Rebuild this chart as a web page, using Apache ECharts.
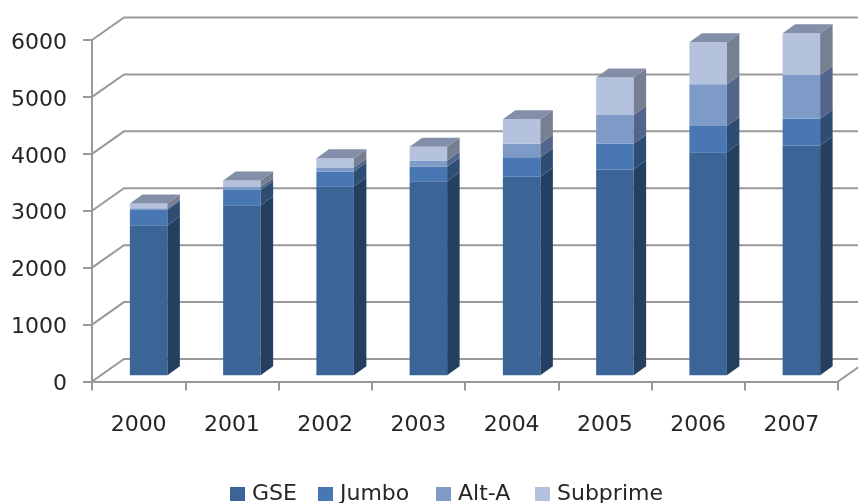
<!DOCTYPE html>
<html><head><meta charset="utf-8">
<style>html,body{margin:0;padding:0;background:#fff}#c{width:858px;height:503px}</style>
<script src="https://cdn.jsdelivr.net/npm/echarts@6/dist/echarts.min.js"></script>
</head><body><div id="c"></div>
<script>
var categories = ['2000','2001','2002','2003','2004','2005','2006','2007'];
var yTicks = [0,1000,2000,3000,4000,5000,6000];
var gse      = [2634,2986,3320,3408,3486,3614,3919,4037];
var jumbo    = [ 270, 270, 259, 254, 345, 453, 458, 470];
var altA     = [  30,  50,  71, 111, 236, 503, 733, 769];
var subprime = [  82, 114, 163, 241, 428, 659, 740, 733];

var seriesDefs = [
  {name:'GSE', values:gse, front:'#3b6497', side:'#243f5f', legendLeft:225},
  {name:'Jumbo', values:jumbo, front:'#4877b3', side:'#2d4d74', legendLeft:313},
  {name:'Alt-A', values:altA, front:'#7e9bc8', side:'#53658a', legendLeft:431},
  {name:'Subprime', values:subprime, front:'#b4c2de', side:'#777f92', legendLeft:530}
];
var topColor = '#838fa8', gridColor = '#999999', textColor = '#262626';
var font = '"DejaVu Sans"', fontSize = 22;
var wallDx = 32, wallDy = -22.5;
var depthDx = 12.5, depthDy = -9;
var frontDx = 10, frontDy = -6.3, barW = 37.5;

var series = [];
series.push({
  type:'custom', name:'_grid', coordinateSystem:'cartesian2d', silent:true, clip:false, z:1,
  data: yTicks.map(function(t){return [0,t];}),
  encode:{x:0,y:1},
  renderItem:function(params,api){
    var y = api.coord([0,api.value(1)])[1];
    var x0 = params.coordSys.x;
    return {type:'polyline', shape:{points:[[x0,y],[x0+wallDx,y+wallDy],[900,y+wallDy]]},
      style:{stroke:gridColor,lineWidth:2,fill:null}};
  }
});
series.push({
  type:'custom', name:'_floor', coordinateSystem:'cartesian2d', silent:true, clip:false, z:1,
  data:[[0,0]], encode:{x:0,y:1},
  renderItem:function(params,api){
    var y = api.coord([0,0])[1], x = params.coordSys.x+params.coordSys.width;
    return {type:'line', shape:{x1:x,y1:y,x2:x+wallDx,y2:y+wallDy}, style:{stroke:gridColor,lineWidth:2}};
  }
});
var cum = categories.map(function(){return 0;});
seriesDefs.forEach(function(def,si){
  var rows = def.values.map(function(v,i){
    var r=[i,cum[i],cum[i]+v]; cum[i]+=v; return r;
  });
  series.push({
    type:'custom', name:def.name, coordinateSystem:'cartesian2d', clip:false, z:3+si,
    itemStyle:{color:def.front},
    data:rows, encode:{x:0,y:[1,2]},
    renderItem:function(params,api){
      var b=api.coord([api.value(0),api.value(1)]), t=api.coord([api.value(0),api.value(2)]);
      var xl=b[0]+frontDx-barW/2, xr=xl+barW, yb=b[1]+frontDy, yt=t[1]+frontDy;
      var kids=[
        {type:'polygon',shape:{points:[[xl,yb],[xr,yb],[xr,yt],[xl,yt]]},style:{fill:def.front}},
        {type:'polygon',shape:{points:[[xr,yb],[xr+depthDx,yb+depthDy],[xr+depthDx,yt+depthDy],[xr,yt]]},style:{fill:def.side}}
      ];
      if(si===seriesDefs.length-1){
        kids.push({type:'polygon',shape:{points:[[xl,yt],[xr,yt],[xr+depthDx,yt+depthDy],[xl+depthDx,yt+depthDy]]},style:{fill:topColor}});
      }
      return {type:'group',children:kids};
    }
  });
});

var chart = echarts.init(document.getElementById('c'),null,{renderer:'canvas'});
chart.setOption({
  animation:false, backgroundColor:'#fff',
  textStyle:{fontFamily:font},
  grid:{left:92,top:40,width:746,height:341.5,containLabel:false},
  legend:seriesDefs.map(function(d){
    return {
      data:[d.name], left:d.legendLeft, top:478, itemWidth:15, itemHeight:14, icon:'rect',
      textStyle:{fontFamily:font,fontSize:fontSize,color:textColor,padding:[0,0,0,2]}
    };
  }),
  xAxis:{type:'category',data:categories,boundaryGap:true,
    axisLine:{lineStyle:{color:gridColor,width:2}},
    axisTick:{show:true,alignWithLabel:false,length:9,lineStyle:{color:gridColor,width:2}},
    axisLabel:{color:textColor,fontSize:fontSize,fontFamily:font,margin:33,interval:0},
    splitLine:{show:false}},
  yAxis:{type:'value',min:0,max:6000,interval:1000,
    axisLine:{show:true,lineStyle:{color:gridColor,width:2}},
    axisTick:{show:true,length:9,lineStyle:{color:gridColor,width:2}},
    axisLabel:{color:textColor,fontFamily:font,margin:25,
      formatter:function(v){return '{a|'+v+'}';},
      rich:{a:{fontSize:fontSize,fontFamily:font,color:textColor,padding:[6,0,0,0]}}},
    splitLine:{show:false}},
  series:series
});
</script></body></html>
